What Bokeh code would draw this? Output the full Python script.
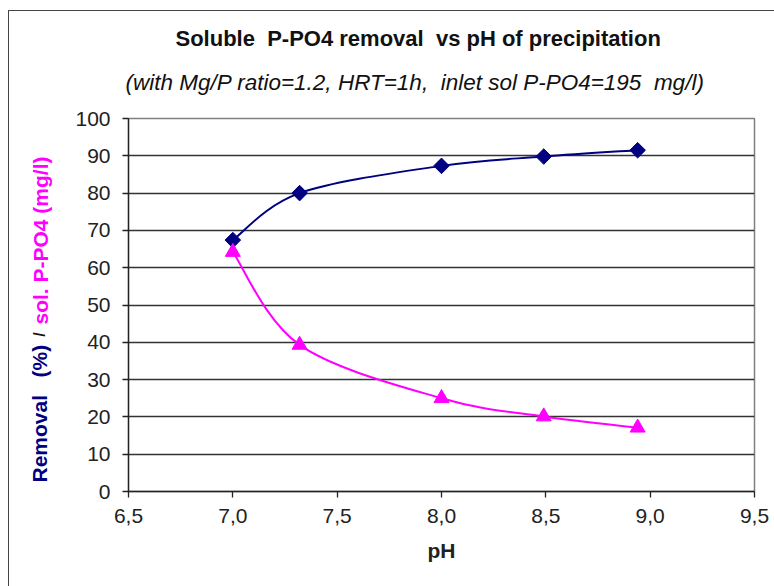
import math
from bokeh.plotting import figure
from bokeh.models import Label, FixedTicker, Range1d, ColumnDataSource, Title
from bokeh.embed import file_html
from bokeh.resources import INLINE

ph = [7.0, 7.32, 8.0, 8.49, 8.94]
removal = [67.4, 80.0, 87.3, 89.8, 91.5]
sol_ppo4 = [64.2, 39.3, 25.0, 20.1, 17.1]

x_ticks = [6.5, 7.0, 7.5, 8.0, 8.5, 9.0, 9.5]
x_tick_labels = ["6,5", "7,0", "7,5", "8,0", "8,5", "9,0", "9,5"]
y_ticks = list(range(0, 101, 10))

NB = "\u00a0"
title_text = f"Soluble {NB}P-PO4 removal {NB}vs pH of precipitation"
subtitle_text = f"(with Mg/P ratio=1.2, HRT=1h, {NB}inlet sol P-PO4=195 {NB}mg/l)"
ylabel_parts = [("Removal " + NB + NB + "(%)", "#000080"), ("/", "#111111"),
                ("sol. P-PO4 (mg/l)", "#FF00FF")]

FONT = "Liberation Sans"

W, H = 766, 576
p = figure(width=W, height=H, output_backend="svg", toolbar_location=None,
           x_range=Range1d(6.5, 9.5), y_range=Range1d(0, 100),
           min_border_left=117, min_border_right=21, min_border_top=107,
           min_border_bottom=96)
p.margin = (10, 0, 0, 8)
p.styles = {"border-left": "1.5px solid #444", "border-top": "1.5px solid #444"}
p.outline_line_color = "#808080"
p.outline_line_width = 1.5
p.background_fill_color = "white"
p.border_fill_color = "white"

p.xgrid.grid_line_color = None
p.ygrid.grid_line_color = "#333333"
p.ygrid.grid_line_width = 1.3
p.ygrid.ticker = FixedTicker(ticks=y_ticks)

p.xaxis.ticker = FixedTicker(ticks=x_ticks)
p.xaxis.major_label_overrides = {t: l for t, l in zip(x_ticks, x_tick_labels)}
p.yaxis.ticker = FixedTicker(ticks=y_ticks)
for ax in (p.xaxis, p.yaxis):
    ax.axis_line_color = "#222222"
    ax.axis_line_width = 1.3
    ax.major_tick_line_color = "#222222"
    ax.major_tick_line_width = 1.3
    ax.major_tick_out = 6
    ax.major_tick_in = 0
    ax.minor_tick_line_color = None
    ax.major_label_text_font = FONT
    ax.major_label_text_font_size = "21px"
    ax.major_label_text_color = "#222222"
p.xaxis.major_label_standoff = 11
p.yaxis.major_label_standoff = 12
p.xaxis.axis_label = "pH"
p.xaxis.axis_label_text_font = FONT
p.xaxis.axis_label_text_font_style = "bold"
p.xaxis.axis_label_text_font_size = "21px"
p.xaxis.axis_label_text_color = "#222222"
p.xaxis.axis_label_standoff = 13

# titles: first added sits nearest the frame
p.add_layout(Title(text=subtitle_text, text_font=FONT, text_font_style="italic",
                   text_font_size="22.5px", text_color="#111111", align="left",
                   standoff=48, offset=-3), "above")
p.add_layout(Title(text=title_text, text_font=FONT, text_font_style="bold",
                   text_font_size="22px", text_color="#111111", align="left",
                   standoff=-14, offset=47), "above")


def bezier_segments(xs, ys):
    n = len(xs)
    segs = {"x0": [], "y0": [], "x1": [], "y1": [], "cx0": [], "cy0": [], "cx1": [], "cy1": []}
    for i in range(n - 1):
        xm = xs[i - 1] if i > 0 else xs[i]
        ym = ys[i - 1] if i > 0 else ys[i]
        xp = xs[i + 2] if i + 2 < n else xs[i + 1]
        yp = ys[i + 2] if i + 2 < n else ys[i + 1]
        segs["x0"].append(xs[i]); segs["y0"].append(ys[i])
        segs["x1"].append(xs[i + 1]); segs["y1"].append(ys[i + 1])
        segs["cx0"].append(xs[i] + (xs[i + 1] - xm) / 6)
        segs["cy0"].append(ys[i] + (ys[i + 1] - ym) / 6)
        segs["cx1"].append(xs[i + 1] - (xp - xs[i]) / 6)
        segs["cy1"].append(ys[i + 1] - (yp - ys[i]) / 6)
    return ColumnDataSource(segs)


p.bezier(x0="x0", y0="y0", x1="x1", y1="y1", cx0="cx0", cy0="cy0", cx1="cx1", cy1="cy1",
         source=bezier_segments(ph, removal), line_color="#000080", line_width=2)
p.bezier(x0="x0", y0="y0", x1="x1", y1="y1", cx0="cx0", cy0="cy0", cx1="cx1", cy1="cy1",
         source=bezier_segments(ph, sol_ppo4), line_color="#FF00FF", line_width=2)
p.scatter(ph, removal, marker="square", angle=math.pi / 4, size=11,
          fill_color="#000080", line_color="#000080")
p.scatter(ph, sol_ppo4, marker="triangle", size=15,
          fill_color="#FF00FF", line_color="#FF00FF")

# y-axis label pieces, each in its own left panel (y relative to frame bottom)
y_starts = [9, 157, 167]
x_shift = [-10, 7, 31]
sizes = ["21px", "16px", "21px"]
aligns = ["left", "center", "left"]
for (txt, col), ys, xs_, sz, al in zip(ylabel_parts, y_starts, x_shift, sizes, aligns):
    p.add_layout(Label(x=xs_, y=ys, x_units="screen", y_units="screen",
                       text=txt, text_font=FONT, text_font_style="bold",
                       text_font_size=sz, text_color=col, angle=math.pi / 2,
                       text_align=al, text_baseline="middle"), "left")

open("out.html", "w").write(file_html(p, INLINE))
